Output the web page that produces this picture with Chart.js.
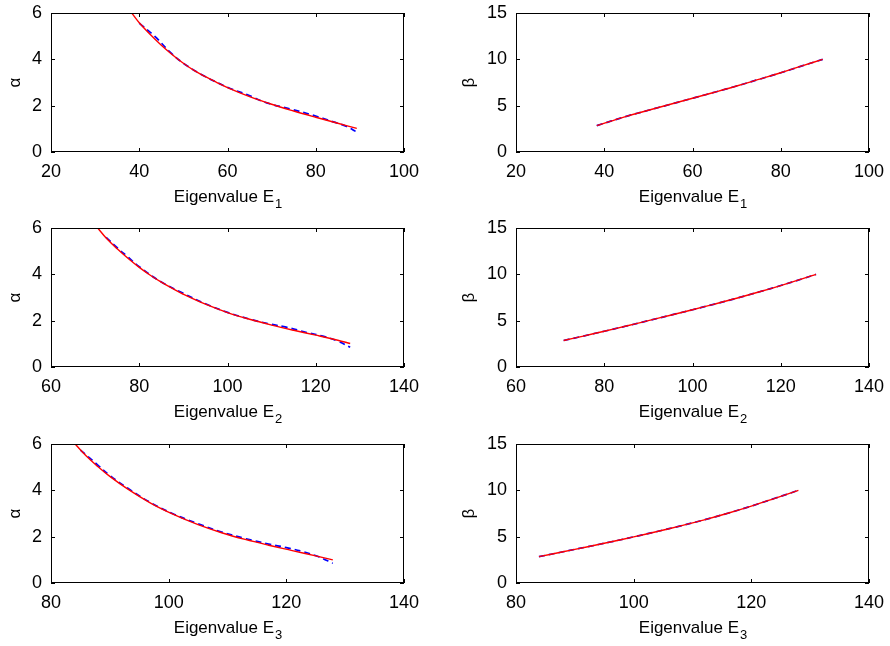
<!DOCTYPE html>
<html>
<head>
<meta charset="utf-8">
<script src="https://cdn.jsdelivr.net/npm/chart.js@4.4.1/dist/chart.umd.min.js"></script>
<style>
  html, body { margin: 0; padding: 0; background: #fff; overflow: hidden; }
  #wrap { position: relative; width: 890px; height: 646px; }
  #wrap canvas { position: absolute; }
</style>
</head>
<body>
<div id="wrap"></div>
<script>
// ---- Eigenvalue E1 ----
const e1Fit      = [38.3, 40.0, 42.5, 45.0, 47.5, 50.0, 52.5, 55.0, 57.5, 60.0, 65.0, 70.0, 75.0, 80.0, 85.0, 89.3];
const alpha1Fit  = [6.00, 5.58, 5.07, 4.61, 4.20, 3.83, 3.51, 3.25, 3.01, 2.78, 2.39, 2.06, 1.77, 1.50, 1.24, 1.02];
const e1Num      = [40.0, 43.6, 47.0, 50.0, 54.5, 58.3, 60.6, 64.4, 68.9, 74.2, 79.5, 84.0, 87.0, 89.3];
const alpha1Num  = [5.56, 4.98, 4.31, 3.83, 3.30, 2.94, 2.74, 2.48, 2.12, 1.86, 1.58, 1.30, 1.10, 0.86];
const e1Beta     = [38.3, 45.0, 50.0, 55.0, 60.0, 65.0, 70.0, 75.0, 80.0, 85.0, 89.5];
const beta1Fit   = [2.84, 3.85, 4.50, 5.15, 5.80, 6.45, 7.12, 7.83, 8.55, 9.32, 10.00];
const beta1Num   = [2.84, 3.85, 4.50, 5.15, 5.80, 6.45, 7.12, 7.83, 8.55, 9.32, 10.00];

// ---- Eigenvalue E2 ----
const e2Fit      = [70.6, 72.5, 75.0, 77.5, 80.0, 82.5, 85.0, 87.5, 90.0, 95.0, 100.0, 105.0, 110.0, 115.0, 120.0, 125.0, 127.8];
const alpha2Fit  = [6.00, 5.57, 5.10, 4.68, 4.30, 3.96, 3.66, 3.39, 3.14, 2.71, 2.35, 2.06, 1.81, 1.585, 1.375, 1.155, 1.015];
const e2Num      = [72.5, 75.0, 77.5, 80.0, 85.0, 90.0, 95.0, 100.0, 105.0, 110.0, 113.3, 118.0, 121.6, 125.0, 127.8];
const alpha2Num  = [5.60, 5.15, 4.74, 4.33, 3.67, 3.18, 2.73, 2.36, 2.07, 1.84, 1.72, 1.49, 1.33, 1.12, 0.85];
const e2Beta     = [70.8, 75.0, 80.0, 85.0, 90.0, 95.0, 100.0, 105.0, 110.0, 115.0, 120.0, 125.0, 128.0];
const beta2Fit   = [2.86, 3.31, 3.86, 4.42, 5.00, 5.59, 6.18, 6.79, 7.42, 8.09, 8.79, 9.53, 10.00];
const beta2Num   = [2.86, 3.31, 3.86, 4.42, 5.00, 5.59, 6.18, 6.79, 7.42, 8.09, 8.79, 9.53, 10.00];

// ---- Eigenvalue E3 ----
const e3Fit      = [84.1, 86.0, 88.0, 90.0, 93.0, 97.0, 101.0, 105.0, 109.0, 113.0, 117.0, 121.0, 125.0, 127.9];
const alpha3Fit  = [6.00, 5.48, 5.02, 4.60, 4.06, 3.44, 2.94, 2.52, 2.17, 1.88, 1.63, 1.40, 1.17, 1.00];
const e3Num      = [85.0, 88.0, 90.0, 93.0, 97.0, 101.0, 105.0, 109.0, 113.0, 117.0, 120.0, 123.0, 125.5, 127.9];
const alpha3Num  = [5.74, 5.08, 4.64, 4.10, 3.46, 2.96, 2.56, 2.20, 1.92, 1.68, 1.53, 1.34, 1.13, 0.85];
const e3Beta     = [83.9, 88.0, 92.0, 96.0, 100.0, 104.0, 108.0, 112.0, 116.0, 120.0, 124.0, 128.0];
const beta3Fit   = [2.84, 3.37, 3.89, 4.42, 4.98, 5.56, 6.17, 6.82, 7.53, 8.30, 9.14, 10.00];
const beta3Num   = [2.84, 3.37, 3.89, 4.42, 4.98, 5.56, 6.17, 6.82, 7.53, 8.30, 9.14, 10.00];

// ---- axes ----
const xTicks1 = [20, 40, 60, 80, 100];
const xTicks2 = [60, 80, 100, 120, 140];
const xTicks3 = [80, 100, 120, 140];
const alphaTicks = [0, 2, 4, 6];
const betaTicks  = [0, 5, 10, 15];
const xTitleMain = 'Eigenvalue E';
const xTitleSubs = ['1', '2', '3'];
const yTitleAlpha = 'α';
const yTitleBeta  = 'β';

const FONT = '"Liberation Sans", Arial, Helvetica, sans-serif';
const TICK_SIZE = 18;
const TITLE_SIZE = 17;
const SUB_SIZE = 13;

const zip = (xs, ys) => xs.map((x, i) => ({ x: x, y: ys[i] }));

// box outline, inward ticks on all four sides, and x title with subscript
const framePlugin = {
  id: 'frame',
  afterDraw(chart, args, opts) {
    const { ctx, chartArea: a, scales } = chart;
    const xs = scales.x, ys = scales.y;
    const L = Math.round(a.left), R = Math.round(a.right);
    const T = Math.round(a.top), B = Math.round(a.bottom);
    const tick = 4;
    ctx.save();
    ctx.strokeStyle = '#000';
    ctx.lineWidth = 1;
    ctx.beginPath();
    xs.ticks.forEach(t => {
      const p = Math.round(xs.getPixelForValue(t.value)) + 0.5;
      ctx.moveTo(p, B); ctx.lineTo(p, B - tick);
      ctx.moveTo(p, T); ctx.lineTo(p, T + tick);
    });
    ys.ticks.forEach(t => {
      const p = Math.round(ys.getPixelForValue(t.value)) + 0.5;
      ctx.moveTo(L, p); ctx.lineTo(L + tick, p);
      ctx.moveTo(R, p); ctx.lineTo(R - tick, p);
    });
    ctx.stroke();
    ctx.strokeRect(L + 0.5, T + 0.5, R - L - 1, B - T - 1);

    // x axis title: main text plus lowered subscript
    const main = xs.options.title.text;
    const sub = opts.sub;
    ctx.fillStyle = '#000';
    ctx.textBaseline = 'alphabetic';
    ctx.textAlign = 'left';
    ctx.font = TITLE_SIZE + 'px ' + FONT;
    const wMain = ctx.measureText(main).width;
    ctx.font = SUB_SIZE + 'px ' + FONT;
    const wSub = ctx.measureText(sub).width;
    const x0 = (a.left + a.right) / 2 - (wMain + wSub) / 2;
    const base = B + 50;
    ctx.font = TITLE_SIZE + 'px ' + FONT;
    ctx.fillText(main, x0, base);
    ctx.font = SUB_SIZE + 'px ' + FONT;
    ctx.fillText(sub, x0 + wMain + 1, base + 6);
    ctx.restore();
  }
};

const wrap = document.getElementById('wrap');

function makePanel(p) {
  const canvas = document.createElement('canvas');
  canvas.width = p.width;
  canvas.height = 215;
  canvas.style.left = p.left + 'px';
  canvas.style.top = p.top + 'px';
  canvas.style.width = p.width + 'px';
  canvas.style.height = '215px';
  wrap.appendChild(canvas);

  const tickFont = { family: FONT, size: TICK_SIZE };
  new Chart(canvas, {
    type: 'line',
    data: {
      datasets: [
        { data: zip(p.fitX, p.fitY), borderColor: '#ff0000', borderWidth: 1.4, order: 0 },
        { data: zip(p.numX, p.numY), borderColor: '#0000ff', borderWidth: 1.7, borderDash: [6, 4], order: 1 }
      ]
    },
    options: {
      responsive: false,
      animation: false,
      devicePixelRatio: 1,
      layout: { padding: { left: 0, right: p.padRight, top: 13, bottom: 0 } },
      plugins: {
        legend: { display: false },
        tooltip: { enabled: false },
        frame: { sub: p.sub }
      },
      elements: {
        point: { radius: 0 },
        line: { tension: 0.4, fill: false }
      },
      scales: {
        x: {
          type: 'linear',
          min: p.xTicks[0],
          max: p.xTicks[p.xTicks.length - 1],
          afterBuildTicks: s => { s.ticks = p.xTicks.map(v => ({ value: v })); },
          afterFit: s => { s.height = 63; s.paddingLeft = 0; s.paddingRight = 0; },
          grid: { display: false, drawTicks: false },
          border: { display: false },
          title: { display: false, text: xTitleMain },
          ticks: { font: tickFont, color: '#000', padding: 9, maxRotation: 0, autoSkip: false }
        },
        y: {
          type: 'linear',
          min: p.yTicks[0],
          max: p.yTicks[p.yTicks.length - 1],
          afterBuildTicks: s => { s.ticks = p.yTicks.map(v => ({ value: v })); },
          afterFit: s => { s.width = p.yWidth; s.paddingTop = 0; s.paddingBottom = 0; },
          grid: { display: false, drawTicks: false },
          border: { display: false },
          title: { display: true, text: p.yTitle, font: { family: FONT, size: TITLE_SIZE }, color: '#000', padding: { top: p.yTitlePad, bottom: 0 } },
          ticks: { font: tickFont, color: '#000', padding: 9, autoSkip: false }
        }
      }
    },
    plugins: [framePlugin]
  });
}

const rowTops = [0, 215, 431];
const leftCol  = { left: 0,   width: 430, yWidth: 51, padRight: 26, yTitlePad: 5 };
const rightCol = { left: 455, width: 435, yWidth: 61, padRight: 21, yTitlePad: 4 };

const rows = [
  { xTicks: xTicks1, aX: e1Fit, aY: alpha1Fit, aNX: e1Num, aNY: alpha1Num, bX: e1Beta, bY: beta1Fit, bNY: beta1Num, sub: xTitleSubs[0] },
  { xTicks: xTicks2, aX: e2Fit, aY: alpha2Fit, aNX: e2Num, aNY: alpha2Num, bX: e2Beta, bY: beta2Fit, bNY: beta2Num, sub: xTitleSubs[1] },
  { xTicks: xTicks3, aX: e3Fit, aY: alpha3Fit, aNX: e3Num, aNY: alpha3Num, bX: e3Beta, bY: beta3Fit, bNY: beta3Num, sub: xTitleSubs[2] }
];

rows.forEach((r, i) => {
  makePanel(Object.assign({}, leftCol, {
    top: rowTops[i], xTicks: r.xTicks, yTicks: alphaTicks, yTitle: yTitleAlpha,
    fitX: r.aX, fitY: r.aY, numX: r.aNX, numY: r.aNY, sub: r.sub
  }));
  makePanel(Object.assign({}, rightCol, {
    top: rowTops[i], xTicks: r.xTicks, yTicks: betaTicks, yTitle: yTitleBeta,
    fitX: r.bX, fitY: r.bY, numX: r.bX, numY: r.bNY, sub: r.sub
  }));
});
</script>
</body>
</html>
